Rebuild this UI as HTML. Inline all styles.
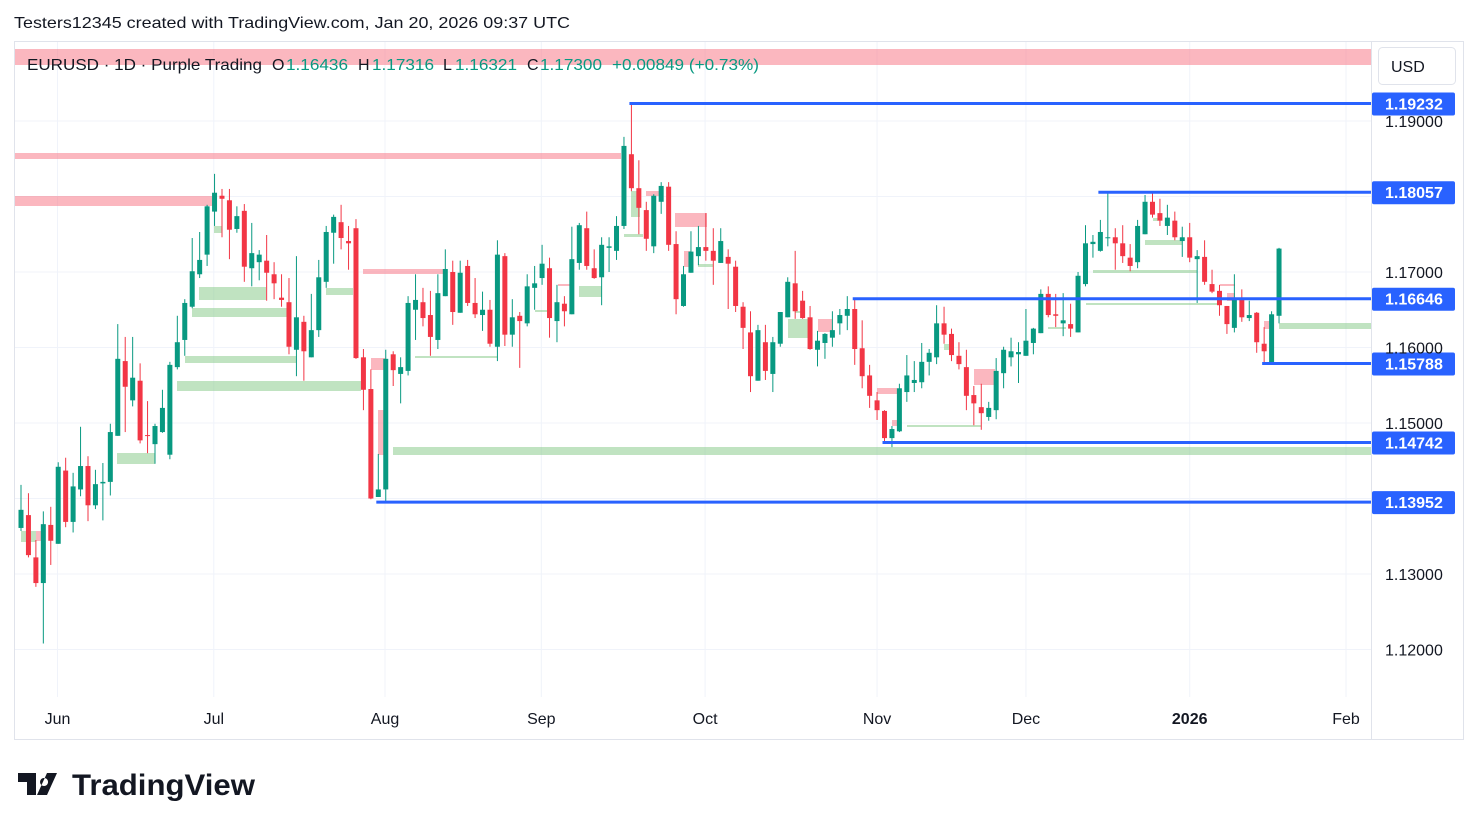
<!DOCTYPE html>
<html><head><meta charset="utf-8">
<style>
body{margin:0;background:#fff;width:1479px;height:829px;overflow:hidden;font-family:"Liberation Sans",sans-serif;}
svg{position:absolute;left:0;top:0}
</style></head>
<body>
<svg id="c" width="1479" height="829" xmlns="http://www.w3.org/2000/svg">
<text x="14" y="28" font-size="16" fill="#131722" textLength="556" lengthAdjust="spacingAndGlyphs">Testers12345 created with TradingView.com, Jan 20, 2026 09:37 UTC</text>
<rect x="14.5" y="41.5" width="1449" height="698" fill="none" stroke="#e0e3eb"/>
<line x1="1371.5" y1="42" x2="1371.5" y2="739" stroke="#e0e3eb"/>
<g id="grid"></g>
<g id="zones"></g>
<g id="candles"></g>
<g id="levels"></g>
<g id="axis"></g>
<rect x="1378.5" y="47.5" width="77" height="37" rx="4" fill="#fff" stroke="#e0e3eb"/>
<text x="1391" y="72" font-size="16" fill="#131722">USD</text>
<g font-size="16">
<text x="27" y="70" fill="#131722" textLength="235" lengthAdjust="spacingAndGlyphs">EURUSD · 1D · Purple Trading</text>
<text x="272" y="70" fill="#131722">O</text>
<text x="286" y="70" fill="#089981" textLength="62" lengthAdjust="spacingAndGlyphs">1.16436</text>
<text x="358" y="70" fill="#131722">H</text>
<text x="372" y="70" fill="#089981" textLength="62" lengthAdjust="spacingAndGlyphs">1.17316</text>
<text x="443" y="70" fill="#131722">L</text>
<text x="455" y="70" fill="#089981" textLength="62" lengthAdjust="spacingAndGlyphs">1.16321</text>
<text x="527" y="70" fill="#131722">C</text>
<text x="540" y="70" fill="#089981" textLength="62" lengthAdjust="spacingAndGlyphs">1.17300</text>
<text x="612" y="70" fill="#089981" textLength="147" lengthAdjust="spacingAndGlyphs">+0.00849 (+0.73%)</text>
</g>
<g>
<path d="M18 773h18v22h-9v-13h-9z M37 795l10-22h10l-10 22z M44 778a4 4 0 1 0 0.1 0z" fill="#131722"/>
<text x="72" y="795" font-size="30" font-weight="bold" fill="#131722" textLength="183" lengthAdjust="spacingAndGlyphs">TradingView</text>
</g>
</svg>
<script>
const opens=[1.1361,1.1378,1.1322,1.1288,1.1365,1.1340,1.1437,1.1369,1.1412,1.1443,1.1391,1.1420,1.1422,1.1483,1.1582,1.1530,1.1556,1.1484,1.1472,1.1488,1.1458,1.1574,1.1610,1.1654,1.1697,1.1723,1.1780,1.1801,1.1795,1.1757,1.1781,1.1705,1.1713,1.1715,1.1697,1.1666,1.1660,1.1597,1.1634,1.1587,1.1623,1.1687,1.1752,1.1766,1.1741,1.1758,1.1587,1.1545,1.1402,1.1412,1.1591,1.1565,1.1569,1.1650,1.1660,1.1643,1.1610,1.1668,1.1700,1.1646,1.1708,1.1659,1.1643,1.1650,1.1601,1.1721,1.1617,1.1642,1.1632,1.1679,1.1692,1.1705,1.1635,1.1658,1.1644,1.1712,1.1758,1.1705,1.1693,1.1732,1.1728,1.1761,1.1856,1.1811,1.1782,1.1734,1.1793,1.1813,1.1737,1.1655,1.1699,1.1721,1.1733,1.1728,1.1712,1.1720,1.1707,1.1654,1.1620,1.1556,1.1607,1.1565,1.1605,1.1640,1.1685,1.1662,1.1640,1.1597,1.1606,1.1613,1.1632,1.1642,1.1651,1.1599,1.1563,1.1530,1.1516,1.1480,1.1489,1.1541,1.1553,1.1554,1.1581,1.1587,1.1632,1.1618,1.1589,1.1574,1.1537,1.1521,1.1508,1.1517,1.1566,1.1587,1.1591,1.1589,1.1606,1.1619,1.1671,1.1644,1.1632,1.1631,1.1620,1.1684,1.1737,1.1728,1.1745,1.1746,1.1738,1.1719,1.1713,1.1750,1.1793,1.1778,1.1761,1.1768,1.1741,1.1746,1.1717,1.1720,1.1684,1.1675,1.1655,1.1626,1.1666,1.1639,1.1646,1.1605,1.1578,1.1642];
const highs=[1.1418,1.1407,1.1345,1.1383,1.1389,1.1448,1.1454,1.1434,1.1495,1.1456,1.1438,1.1447,1.1499,1.1631,1.1614,1.1614,1.1579,1.1529,1.1499,1.1544,1.1581,1.1642,1.1664,1.1745,1.1753,1.1789,1.1830,1.1810,1.1810,1.1787,1.1790,1.1765,1.1729,1.1749,1.1713,1.1697,1.1692,1.1721,1.1642,1.1671,1.1716,1.1761,1.1776,1.1789,1.1761,1.1770,1.1598,1.1571,1.1459,1.1597,1.1595,1.1587,1.1668,1.1697,1.1679,1.1675,1.1697,1.1730,1.1715,1.1715,1.1716,1.1692,1.1674,1.1663,1.1742,1.1725,1.1664,1.1647,1.1697,1.1708,1.1736,1.1719,1.1683,1.1668,1.1760,1.1765,1.1780,1.1730,1.1746,1.1746,1.1774,1.1879,1.1923,1.1848,1.1793,1.1803,1.1819,1.1819,1.1754,1.1708,1.1754,1.1761,1.1778,1.1758,1.1758,1.1730,1.1715,1.1660,1.1648,1.1630,1.1630,1.1614,1.1647,1.1693,1.1728,1.1675,1.1655,1.1622,1.1619,1.1648,1.1651,1.1668,1.1666,1.1636,1.1577,1.1541,1.1517,1.1496,1.1552,1.1590,1.1582,1.1606,1.1598,1.1656,1.1654,1.1625,1.1607,1.1597,1.1549,1.1552,1.1528,1.1586,1.1601,1.1613,1.1607,1.1651,1.1626,1.1677,1.1681,1.1671,1.1672,1.1658,1.1700,1.1762,1.1749,1.1769,1.1805,1.1758,1.1762,1.1737,1.1769,1.1802,1.1806,1.1797,1.1789,1.1780,1.1760,1.1765,1.1729,1.1742,1.1703,1.1683,1.1655,1.1697,1.1677,1.1662,1.1647,1.1627,1.1648,1.1732];
const lows=[1.1357,1.1322,1.1283,1.1208,1.1312,1.1340,1.1362,1.1355,1.1403,1.1370,1.1386,1.1371,1.1404,1.1483,1.1488,1.1522,1.1473,1.1460,1.1446,1.1487,1.1452,1.1571,1.1589,1.1652,1.1692,1.1708,1.1761,1.1746,1.1717,1.1752,1.1687,1.1681,1.1689,1.1662,1.1664,1.1654,1.1591,1.1562,1.1556,1.1587,1.1614,1.1679,1.1711,1.1730,1.1703,1.1585,1.1517,1.1399,1.1402,1.1395,1.1549,1.1526,1.1563,1.1610,1.1628,1.1589,1.1598,1.1668,1.1630,1.1646,1.1655,1.1639,1.1622,1.1601,1.1582,1.1602,1.1601,1.1573,1.1628,1.1650,1.1683,1.1613,1.1607,1.1628,1.1644,1.1703,1.1703,1.1691,1.1656,1.1700,1.1716,1.1757,1.1807,1.1750,1.1728,1.1725,1.1777,1.1728,1.1644,1.1654,1.1699,1.1709,1.1715,1.1683,1.1712,1.1651,1.1647,1.1598,1.1541,1.1556,1.1557,1.1541,1.1601,1.1640,1.1638,1.1638,1.1597,1.1575,1.1585,1.1601,1.1617,1.1623,1.1577,1.1546,1.1520,1.1504,1.1474,1.1468,1.1488,1.1528,1.1541,1.1546,1.1563,1.1578,1.1605,1.1582,1.1571,1.1517,1.1497,1.1491,1.1503,1.1505,1.1546,1.1575,1.1553,1.1589,1.1591,1.1619,1.1640,1.1627,1.1615,1.1614,1.1620,1.1681,1.1719,1.1727,1.1734,1.1703,1.1712,1.1701,1.1705,1.1750,1.1772,1.1761,1.1749,1.1742,1.1720,1.1713,1.1659,1.1683,1.1672,1.1642,1.1618,1.1620,1.1634,1.1635,1.1593,1.1579,1.1578,1.1632];
const closes=[1.1385,1.1325,1.1288,1.1366,1.1344,1.1442,1.1369,1.1416,1.1443,1.1391,1.1419,1.1422,1.1488,1.1585,1.1548,1.1560,1.1477,1.1483,1.1496,1.1520,1.1577,1.1607,1.1659,1.1701,1.1716,1.1787,1.1805,1.1797,1.1756,1.1774,1.1707,1.1725,1.1723,1.1699,1.1685,1.1663,1.1601,1.1640,1.1595,1.1623,1.1693,1.1753,1.1773,1.1745,1.1738,1.1586,1.1544,1.1400,1.1412,1.1585,1.1570,1.1574,1.1659,1.1663,1.1639,1.1614,1.1672,1.1704,1.1647,1.1699,1.1659,1.1644,1.1650,1.1605,1.1723,1.1617,1.1640,1.1635,1.1681,1.1685,1.1711,1.1639,1.1660,1.1648,1.1717,1.1762,1.1708,1.1692,1.1736,1.1734,1.1761,1.1867,1.1811,1.1785,1.1744,1.1801,1.1814,1.1736,1.1664,1.1697,1.1727,1.1733,1.1728,1.1715,1.1741,1.1711,1.1655,1.1626,1.1562,1.1623,1.1569,1.1607,1.1647,1.1687,1.1648,1.1639,1.1598,1.1609,1.1618,1.1623,1.1643,1.1651,1.1598,1.1562,1.1536,1.1517,1.1480,1.1492,1.1546,1.1563,1.1557,1.1581,1.1593,1.1632,1.1617,1.1590,1.1578,1.1536,1.1526,1.1513,1.1520,1.1569,1.1597,1.1595,1.1594,1.1609,1.1625,1.1671,1.1643,1.1642,1.1636,1.1625,1.1695,1.1738,1.1740,1.1753,1.1746,1.1738,1.1721,1.1708,1.1761,1.1793,1.1776,1.1768,1.1772,1.1746,1.1746,1.1719,1.1721,1.1687,1.1674,1.1656,1.1631,1.1666,1.1640,1.1643,1.1607,1.1595,1.1644,1.1731];
const priceTicks=[1.19,1.18,1.17,1.16,1.15,1.14,1.13,1.12];
const tickLabels=["1.19000","","1.17000","1.16000","1.15000","","1.13000","1.12000"];
const monthLabels=["Jun","Jul","Aug","Sep","Oct","Nov","Dec","2026","Feb"];
const monthPos=[4.9,25.9,48.9,69.9,91.9,115,135,157,178];
const levelPrices=[1.19232,1.18057,1.16646,1.15788,1.14742,1.13952];
const levelStart=[82,145,112,167,116,48];

const NS="http://www.w3.org/2000/svg";
function yOf(p){return 272-(p-1.17)*7550;}
function xOf(i){return 21+i*7.444;}
function mk(tag,attrs,parent){const e=document.createElementNS(NS,tag);for(const k in attrs)e.setAttribute(k,attrs[k]);parent.appendChild(e);return e;}
const G=id=>document.getElementById(id);

priceTicks.forEach((p,i)=>{
  const l=mk('line',{x1:15,x2:1371,y1:yOf(p),y2:yOf(p),stroke:'#f0f3fa'},G('grid'));
  
  
  if(tickLabels[i]){
    const t=mk('text',{x:1385,y:yOf(p)+6,'font-size':16,fill:'#131722'},G('axis'));
    t.textContent=tickLabels[i];
    
    
  }
});
monthLabels.forEach((m,i)=>{
  const x=xOf(monthPos[i]);
  const l=mk('line',{x1:x,x2:x,y1:42,y2:697,stroke:'#f0f3fa'},G('grid'));
  
  
  const t=mk('text',{x:x,y:724,'font-size':16,fill:'#131722','text-anchor':'middle','font-weight':m==='2026'?'bold':'normal'},G('axis'));
  t.textContent=m;
  
  
});

const pink='rgba(247,124,138,0.55)',grn='rgba(129,199,132,0.5)';
const zoneRects=[[15,49,1356,16,pink],[15,153,606,6,pink],[15,196,197,10,pink],[363,269,82,5,pink],[371,358,14,12,pink],[378,410,7,45,pink],[36,531,6,10,pink],[675,213,32,14,pink],[646,191,14,5,pink],[684,251,7,16,pink],[818,319,14,13,pink],[877,388,20,6,pink],[892,420,6,6,pink],[974,369,21,16,pink],[1227,293,8,8,pink],[1220,284,15,2,pink],[1264,321,6,8,pink],[558,284,12,2,pink],
[21,531,15,11,grn],[117,453,38,11,grn],[199,287,67,13,grn],[192,308,95,9,grn],[185,356,111,7,grn],[177,381,184,10,grn],[214,226,8,7,grn],[326,288,27,7,grn],[393,447,978,8,grn],[415,356,82,2,grn],[535,310,13,2,grn],[579,286,23,11,grn],[624,234,19,3,grn],[631,191,9,26,grn],[698,264,15,3,grn],[788,319,20,19,grn],[795,311,6,2,grn],[944,344,6,6,grn],[907,425,74,2,grn],[1048,327,18,2,grn],[1093,270,104,3,grn],[1086,303,132,2,grn],[1145,240,37,5,grn],[1153,218,5,3,grn],[1279,323,92,6,grn]];
zoneRects.forEach(z=>{
  const r=mk('rect',{x:z[0],y:z[1],width:z[2],height:z[3],fill:z[4]},G('zones'));
  
  
});

opens.forEach((o,i)=>{
  const c=closes[i],up=c>=o,col=up?'#089981':'#f23645',x=xOf(i);
  const g=mk('g',{},G('candles'));
  
  
  mk('line',{x1:x,x2:x,y1:yOf(highs[i]),y2:yOf(lows[i]),stroke:col,'stroke-width':1},g);
  const top=yOf(Math.max(o,c)),bot=yOf(Math.min(o,c));
  mk('rect',{x:x-2.5,y:top,width:5,height:Math.max(1,bot-top),fill:col},g);
});

levelPrices.forEach((p,i)=>{
  const y=yOf(p);
  const l=mk('line',{x1:xOf(levelStart[i])-2,x2:1371,y1:y,y2:y,stroke:'#2962ff','stroke-width':3},G('levels'));
  
  
  const r=mk('rect',{x:1372,y:y-11,width:83,height:23,rx:2,fill:'#2962ff'},G('levels'));
  
  
  const t=mk('text',{x:1385,y:y+6,'font-size':16,'font-weight':'bold',fill:'#fff'},G('levels'));
  t.textContent=p.toFixed(5);
  
  
});
</script>
</body></html>
